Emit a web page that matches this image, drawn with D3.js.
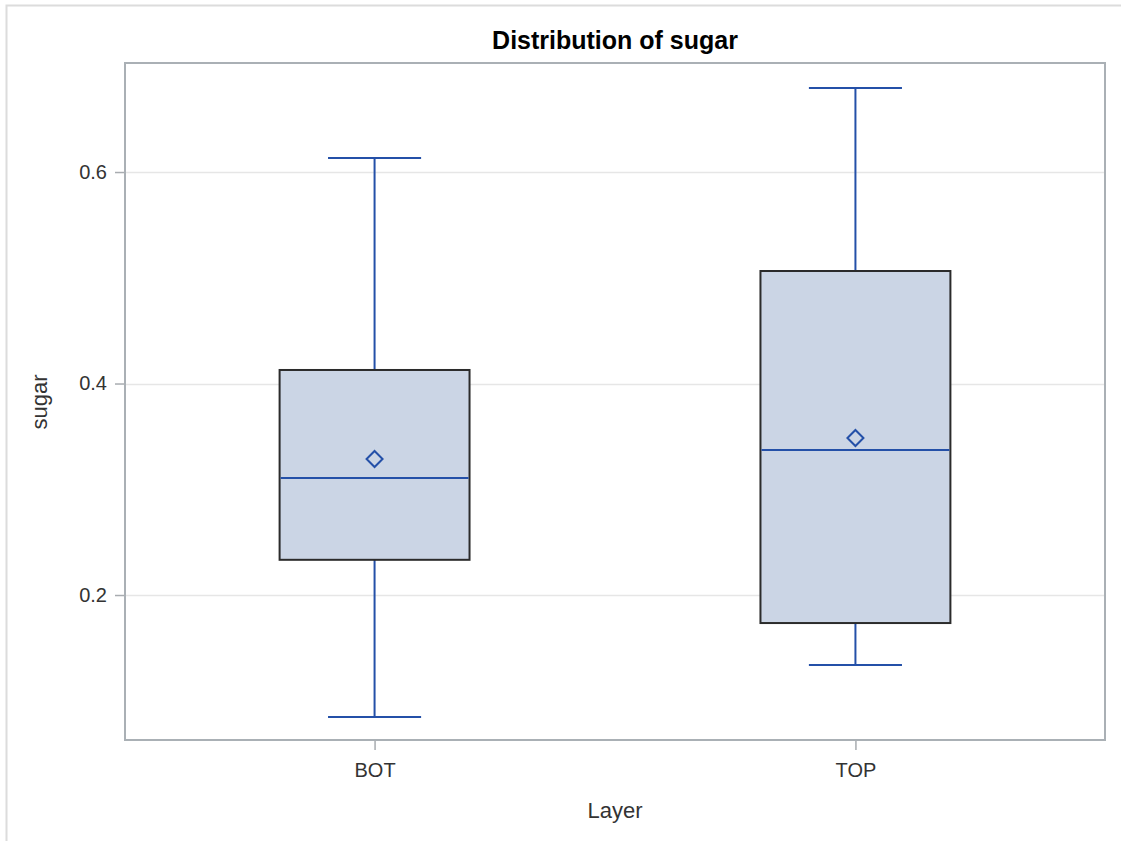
<!DOCTYPE html>
<html>
<head>
<meta charset="utf-8">
<script src="https://cdn.jsdelivr.net/npm/d3@7"></script>
<style>
  html, body { margin: 0; padding: 0; background: #fff; }
  svg { display: block; }
  text { font-family: "Liberation Sans", Arial, sans-serif; }
</style>
</head>
<body>
<svg id="chart" width="1121" height="841"></svg>
<script>
// Box plot summary of sugar by layer
const categories = ["BOT", "TOP"];
const minValues    = [0.0846, 0.1338];
const q1Values     = [0.2333, 0.1735];
const medianValues = [0.3106, 0.3371];
const meanValues   = [0.3286, 0.3485];
const q3Values     = [0.4128, 0.5064];
const maxValues    = [0.6132, 0.6794];
const yTicks = [0.2, 0.4, 0.6];

const svg = d3.select("#chart");
const W = 1121, H = 841;
const plot = { left: 125, top: 63, right: 1105, bottom: 740 };

// outer frame
svg.append("rect")
  .attr("x", 6.5).attr("y", 5.5)
  .attr("width", W + 10).attr("height", H + 10)
  .attr("fill", "none").attr("stroke", "#dcdcdc").attr("stroke-width", 2);

const x = d3.scalePoint().domain(categories)
  .range([plot.left, plot.right]).padding(0.519);
const step = x.step();
const y = d3.scaleLinear().domain([0.0629, 0.7031]).range([plot.bottom, plot.top]);

// grid lines
svg.append("g").selectAll("line").data(yTicks).join("line")
  .attr("x1", plot.left).attr("x2", plot.right)
  .attr("y1", d => Math.round(y(d)) + 0.5).attr("y2", d => Math.round(y(d)) + 0.5)
  .attr("stroke", "#e6e6e6").attr("stroke-width", 1.5);

// axes
const yAxis = d3.axisLeft(y).tickValues(yTicks).tickFormat(d3.format(".1f")).tickSize(10).tickPadding(8);
const gy = svg.append("g").attr("transform", `translate(${plot.left},0)`).call(yAxis);
gy.select(".domain").remove();
gy.selectAll(".tick line").attr("stroke", "#a8acb0").attr("stroke-width", 1.5);
gy.selectAll(".tick text").attr("fill", "#333").style("font-size", "20px");

const xAxis = d3.axisBottom(x).tickSize(10).tickPadding(13);
const gx = svg.append("g").attr("transform", `translate(0,${plot.bottom})`).call(xAxis);
gx.select(".domain").remove();
gx.selectAll(".tick line").attr("stroke", "#a8acb0").attr("stroke-width", 1.5);
gx.selectAll(".tick text").attr("fill", "#333").style("font-size", "20px");

const boxW = step * 0.395;
const capW = boxW * 0.49;
const blue = "#2450a8";

const idx = d3.range(categories.length);
const g = svg.append("g");

// whiskers
g.selectAll(".whiskerLow").data(idx).join("line")
  .attr("x1", i => x(categories[i])).attr("x2", i => x(categories[i]))
  .attr("y1", i => y(minValues[i])).attr("y2", i => y(q1Values[i]))
  .attr("stroke", blue).attr("stroke-width", 2);
g.selectAll(".whiskerHigh").data(idx).join("line")
  .attr("x1", i => x(categories[i])).attr("x2", i => x(categories[i]))
  .attr("y1", i => y(maxValues[i])).attr("y2", i => y(q3Values[i]))
  .attr("stroke", blue).attr("stroke-width", 2);
g.selectAll(".capLow").data(idx).join("line")
  .attr("x1", i => x(categories[i]) - capW / 2).attr("x2", i => x(categories[i]) + capW / 2)
  .attr("y1", i => y(minValues[i])).attr("y2", i => y(minValues[i]))
  .attr("stroke", blue).attr("stroke-width", 2);
g.selectAll(".capHigh").data(idx).join("line")
  .attr("x1", i => x(categories[i]) - capW / 2).attr("x2", i => x(categories[i]) + capW / 2)
  .attr("y1", i => y(maxValues[i])).attr("y2", i => y(maxValues[i]))
  .attr("stroke", blue).attr("stroke-width", 2);

// boxes
g.selectAll(".box").data(idx).join("rect")
  .attr("x", i => x(categories[i]) - boxW / 2)
  .attr("y", i => y(q3Values[i]))
  .attr("width", boxW)
  .attr("height", i => y(q1Values[i]) - y(q3Values[i]))
  .attr("fill", "#cbd5e5").attr("stroke", "#2b2b2b").attr("stroke-width", 2);

// medians
g.selectAll(".median").data(idx).join("line")
  .attr("x1", i => x(categories[i]) - boxW / 2 + 1).attr("x2", i => x(categories[i]) + boxW / 2 - 1)
  .attr("y1", i => y(medianValues[i])).attr("y2", i => y(medianValues[i]))
  .attr("stroke", blue).attr("stroke-width", 2);

// means
g.selectAll(".mean").data(idx).join("path")
  .attr("transform", i => `translate(${x(categories[i])},${y(meanValues[i])})`)
  .attr("d", "M0,-8L8,0L0,8L-8,0Z")
  .attr("fill", "none").attr("stroke", blue).attr("stroke-width", 2);

// plot frame
svg.append("rect")
  .attr("x", plot.left).attr("y", plot.top)
  .attr("width", plot.right - plot.left).attr("height", plot.bottom - plot.top)
  .attr("fill", "none").attr("stroke", "#aab0b5").attr("stroke-width", 2);

// titles
svg.append("text").attr("x", (plot.left + plot.right) / 2).attr("y", 49)
  .attr("text-anchor", "middle").style("font-size", "25px").style("font-weight", "bold")
  .attr("fill", "#000").text("Distribution of sugar");
svg.append("text").attr("x", (plot.left + plot.right) / 2).attr("y", 818)
  .attr("text-anchor", "middle").style("font-size", "22px").attr("fill", "#333").text("Layer");
svg.append("text").attr("transform", `translate(47,402) rotate(-90)`)
  .attr("text-anchor", "middle").style("font-size", "22px").attr("fill", "#333").text("sugar");
</script>
</body>
</html>
